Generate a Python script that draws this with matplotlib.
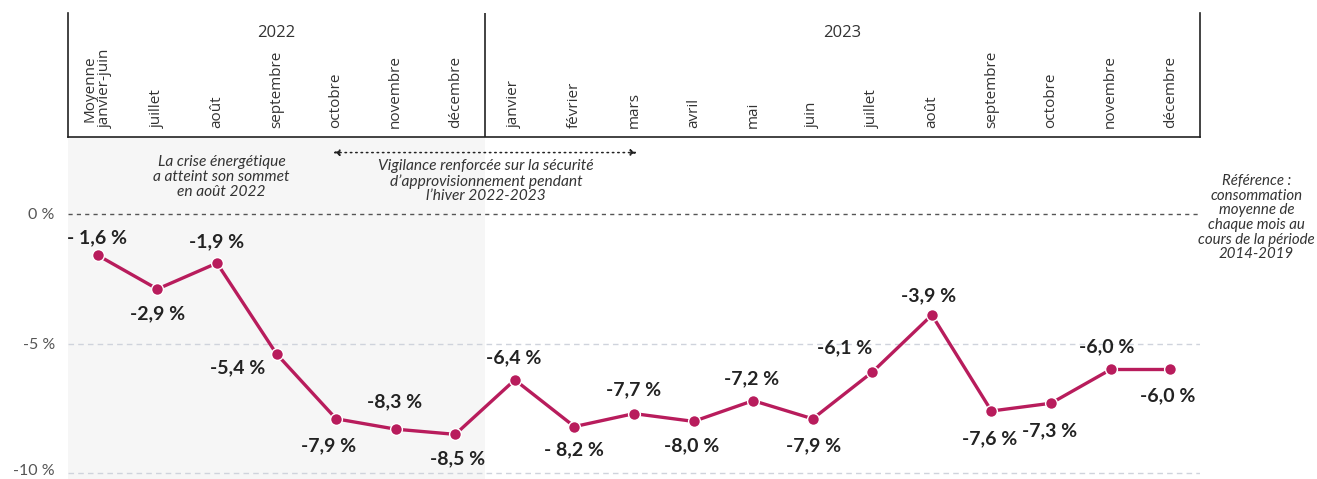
import matplotlib.pyplot as plt
from matplotlib.transforms import ScaledTranslation

months = ["Moyenne\njanvier-juin", "juillet", "août", "septembre", "octobre",
          "novembre", "décembre",
          "janvier", "février", "mars", "avril", "mai", "juin", "juillet",
          "août", "septembre", "octobre", "novembre", "décembre"]
years = ["2022", "2023"]
values = [-1.6, -2.9, -1.9, -5.4, -7.9, -8.3, -8.5,
          -6.4, -8.2, -7.7, -8.0, -7.2, -7.9, -6.1, -3.9, -7.6, -7.3, -6.0, -6.0]
value_labels = ["- 1,6 %", "-2,9 %", "-1,9 %", "-5,4 %", "-7,9 %", "-8,3 %",
                "-8,5 %", "-6,4 %", "- 8,2 %", "-7,7 %", "-8,0 %", "-7,2 %",
                "-7,9 %", "-6,1 %", "-3,9 %", "-7,6 %", "-7,3 %", "-6,0 %",
                "-6,0 %"]
yticks = [0, -5, -10]
ytick_labels = ["0 %", "-5 %", "-10 %"]

# label offsets in pixels (dx, dy)
offsets = [(-1, 18), (0, -25), (0, 21), (-39, -14), (-8, -27), (-1, 27),
           (2, -24), (-1, 22), (0, -23), (0, 24), (-2, -24), (-2, 22),
           (1, -27), (-28, 24), (-3, 19), (-2, -28), (-1, -28), (-4, 23),
           (-3, -26)]

plt.rcParams["font.family"] = ["Lato", "DejaVu Sans"]

LINE_COL = "#b81c5c"
W, H = 1317, 479
fig = plt.figure(figsize=(W / 100, H / 100), dpi=100)

x0, x1 = 68 / W, 1200 / W
ax = fig.add_axes([x0, 0, x1 - x0, (H - 137) / H])
hd = fig.add_axes([x0, (H - 137) / H, x1 - x0, (137 - 13) / H])

xs = list(range(len(values)))
XMIN, XMAX = -0.5, len(values) - 0.5

# header
hd.set_xlim(XMIN, XMAX)
hd.set_ylim(0, 1)
hd.set_xticks([])
hd.set_yticks([])
hd.spines["top"].set_visible(False)
for s in ["left", "right", "bottom"]:
    hd.spines[s].set_color("#222222")
    hd.spines[s].set_linewidth(1.2)
hd.axvline(6.5, color="#222222", lw=1.2)
for xc, yr in zip([3, 12.5], years):
    hd.text(xc, 0.84, yr, ha="center", va="center", fontsize=12,
            color="#333333", family=["Open Sans", "DejaVu Sans"])
for i, m in enumerate(months):
    hd.text(i, 0.07, m, rotation=90, ha="center", va="bottom", fontsize=11,
            color="#333333", linespacing=1.0, family=["Open Sans", "DejaVu Sans"])

# main
ax.set_xlim(XMIN, XMAX)
ax.set_ylim(-10.22, 2.96)
ax.axvspan(XMIN, 6.5, color="#f6f6f6", zorder=0, lw=0)
for s in ax.spines.values():
    s.set_visible(False)
ax.set_xticks([])
ax.set_yticks(yticks)
ax.set_yticklabels(ytick_labels, fontsize=11.5, color="#555555")
ax.tick_params(axis="y", length=0, pad=9.5)
# lift the bottom tick label a little so it stays inside the figure
lowest = ax.get_yticklabels()[-1]
lowest.set_transform(lowest.get_transform()
                     + ScaledTranslation(0, 4 / 100, fig.dpi_scale_trans))
ax.axhline(0, color="#555555", lw=1, ls=(0, (3, 3)), zorder=1)
for yv in yticks[1:]:
    ax.axhline(yv, color="#cfd3dc", lw=1, ls=(0, (4, 3)), zorder=1)

ax.plot(xs, values, color=LINE_COL, lw=2.4, marker="o", markersize=8.5,
        markeredgecolor="white", markeredgewidth=1, zorder=3)
for i, (v, lab) in enumerate(zip(values, value_labels)):
    ax.annotate(lab, (i, v), xytext=offsets[i], textcoords="offset pixels",
                ha="center", va="center", fontsize=14, fontweight="bold",
                color="#222222")

ax.annotate("", xy=(3.95, 2.36), xytext=(9.05, 2.36),
            arrowprops=dict(arrowstyle="<|-|>", ls=(0, (1, 2.5)), lw=1.1,
                            color="#222222", mutation_scale=9,
                            shrinkA=0, shrinkB=0))
ax.text(2.08, 1.42, "La crise énergétique\na atteint son sommet\nen août 2022",
        ha="center", va="center", fontsize=11.2, style="italic",
        color="#333333", linespacing=1.05)
ax.text(6.52, 1.25, "Vigilance renforcée sur la sécurité\nd’approvisionnement pendant\nl’hiver 2022-2023",
        ha="center", va="center", fontsize=11.2, style="italic",
        color="#333333", linespacing=1.05)
ax.text(19.45, -0.15, "Référence :\nconsommation\nmoyenne de\nchaque mois au\ncours de la période\n2014-2019",
        ha="center", va="center", fontsize=10.8, style="italic",
        color="#333333", linespacing=1.05, clip_on=False)

fig.savefig("out.png", dpi=100)
